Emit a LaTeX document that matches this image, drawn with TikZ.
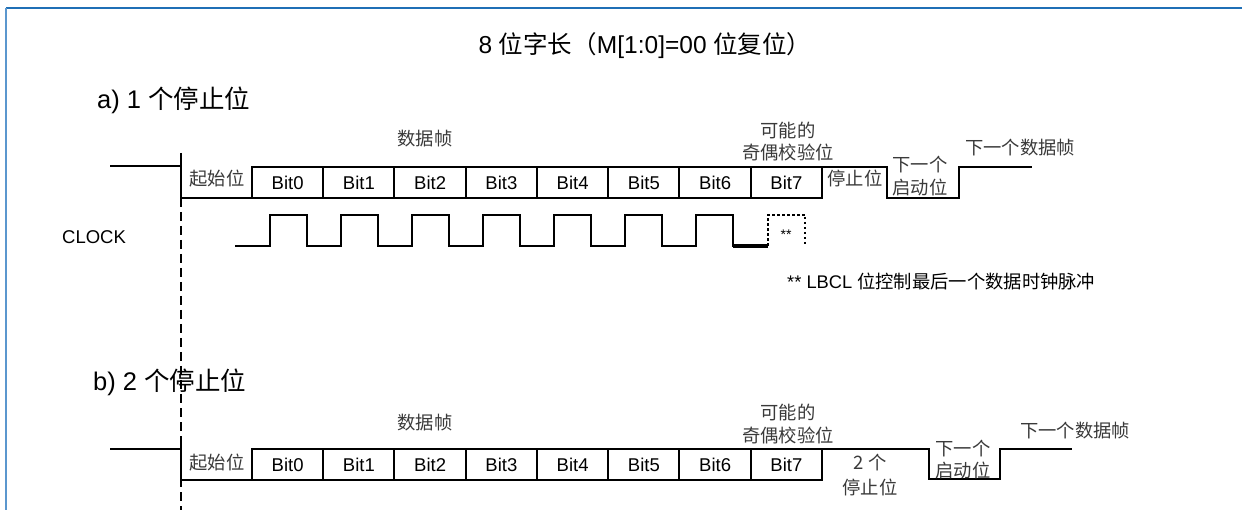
\documentclass[tikz,border=0pt]{standalone}
\usepackage{fontspec}
\setmainfont{Liberation Sans}
\newfontfamily\cjk{Noto Sans CJK SC}
\newcommand\latf{\fontsize{18.5}{20}\selectfont}
\newcommand\cjkf{\cjk\fontsize{18.3}{20}\selectfont}
\definecolor{frameblue}{HTML}{1F6FB6}
\definecolor{frameblueL}{HTML}{5B97CE}
\definecolor{cjkgray}{HTML}{3A3A3A}
\begin{document}
\begin{tikzpicture}[x=1pt,y=-1pt,
  sig/.style={line width=2pt, line join=miter},
  bitbox/.style={draw, line width=2pt, minimum width=71.25pt, minimum height=31pt, inner sep=0pt, outer sep=0pt, font=\latf},
  lbl/.style={font=\cjkf, text=cjkgray, inner sep=0pt},
  guide/.style={line width=2pt, dash pattern=on 9pt off 5pt}
]
\useasboundingbox (0,0) rectangle (1242,510);
\fill[white] (0,0) rectangle (1242,510);
% frame
\draw[frameblue, line width=2.5pt] (6,8) -- (1242,8);
\draw[frameblueL, line width=2.5pt] (6,8) -- (6,510);

% titles
\node[inner sep=0pt] (title) at (645,46) {\fontsize{24.5}{26}\selectfont 8 {\cjk 位字长（}M[1:0]=00 {\cjk 位复位）}};
\node[inner sep=0pt, anchor=west] (ta) at (97,100) {\fontsize{25.5}{27}\selectfont a) 1 {\cjk 个停止位}};
\node[inner sep=0pt, anchor=west] (tb) at (93,382) {\fontsize{25.5}{27}\selectfont b) 2 {\cjk 个停止位}};

% guide line
\draw[guide] (181,198) -- (181,510);
\draw[sig] (181,153) -- (181,198);
\draw[sig] (181,438) -- (181,485);

% ---------- part a ----------
\foreach \i in {0,...,7} \node[bitbox] (a\i) at ({287.6+71.25*\i},182.5) {Bit\i};
\draw[sig] (110,166) -- (181,166) -- (181,198) -- (a0.south west);
\draw[sig] (a7.north east) -- (887,167) -- (887,198) -- (959,198) -- (959,167) -- (1032,167);
\node[lbl] (aframe) at (425,139) {数据帧};
\node[lbl] (apar1) at (788,131) {可能的};
\node[lbl] (apar2) at (788,153) {奇偶校验位};
\node[lbl] (astart) at (217,179) {起始位};
\node[lbl] (astop) at (855,178) {停止位};
\node[lbl] (anext1) at (920,165) {下一个};
\node[lbl] (anext2) at (920,188) {启动位};
\node[lbl] (anextf) at (1020,148) {下一个数据帧};

% clock
\node[inner sep=0pt, anchor=west, font=\latf] (clk) at (62,237) {CLOCK};
\draw[sig] (235,246) \foreach \k in {0,...,6} { -- ({270+71*\k},246) -- ({270+71*\k},215) -- ({307+71*\k},215) -- ({307+71*\k},246) } -- (734,246);
\draw[line width=3.3pt] (733,246) -- (768,246);
\draw[line width=2pt, dash pattern=on 2.5pt off 2.5pt] (768,246) -- (768,215) -- (805,215) -- (805,246);
\node[inner sep=0pt, font=\fontsize{14}{16}\selectfont] (ast) at (786,235) {**};
\node[inner sep=0pt, anchor=west] (note) at (787,282) {\fontsize{18.3}{20}\selectfont ** LBCL {\cjk 位控制最后一个数据时钟脉冲}};

% ---------- part b ----------
\foreach \i in {0,...,7} \node[bitbox] (b\i) at ({287.6+71.25*\i},464.5) {Bit\i};
\draw[sig] (110,449) -- (181,449) -- (181,480) -- (b0.south west);
\draw[sig] (b7.north east) -- (929,449) -- (929,479) -- (1000,479) -- (1000,449) -- (1072,449);
\node[lbl] (bframe) at (425,423) {数据帧};
\node[lbl] (bpar1) at (788,412) {可能的};
\node[lbl] (bpar2) at (788,435) {奇偶校验位};
\node[lbl] (bstart) at (217,463) {起始位};
\node[lbl] (bstop1) at (870,463) {{\latf 2} 个};
\node[lbl] (bstop2) at (870,487) {停止位};
\node[lbl] (bnext1) at (963,449) {下一个};
\node[lbl] (bnext2) at (963,470) {启动位};
\node[lbl] (bnextf) at (1075,431) {下一个数据帧};
\end{tikzpicture}
\end{document}
